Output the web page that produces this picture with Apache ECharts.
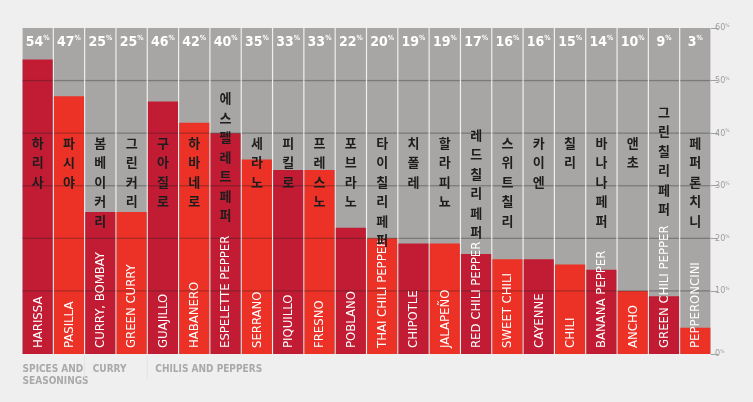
<!DOCTYPE html>
<html>
<head>
<meta charset="utf-8">
<script src="https://cdn.jsdelivr.net/npm/echarts@6/dist/echarts.min.js"></script>
<style>
  html, body { margin: 0; padding: 0; background: #efefef; }
  #chart { width: 753px; height: 402px; }
</style>
</head>
<body>
<div id="chart"></div>
<script>
// ---------- data ----------
const categories = ['HARISSA', 'PASILLA', 'CURRY, BOMBAY', 'GREEN CURRY', 'GUAJILLO', 'HABANERO',
  'ESPELETTE PEPPER', 'SERRANO', 'PIQUILLO', 'FRESNO', 'POBLANO', 'THAI CHILI PEPPER', 'CHIPOTLE',
  'JALAPEÑO', 'RED CHILI PEPPER', 'SWEET CHILI', 'CAYENNE', 'CHILI', 'BANANA PEPPER', 'ANCHO',
  'GREEN CHILI PEPPER', 'PEPPERONCINI'];
const koreanNames = ['하리사', '파시야', '봄베이커리', '그린커리', '구아질로', '하바네로',
  '에스펠레트페퍼', '세라노', '피킬로', '프레스노', '포브라노', '타이칠리페퍼', '치폴레',
  '할라피뇨', '레드칠리페퍼', '스위트칠리', '카이엔', '칠리', '바나나페퍼', '앤초',
  '그린칠리페퍼', '페퍼론치니'];
const values = [54, 47, 25, 25, 46, 42, 40, 35, 33, 33, 22, 20, 19, 19, 17, 16, 16, 15, 14, 10, 9, 3];
const groupNames = ['SPICES AND\nSEASONINGS', 'CURRY', 'CHILIS AND PEPPERS'];
const groupStarts = [0, 2, 4];
const tickValues = [0, 10, 20, 30, 40, 50, 60];
const gridValues = [10, 20, 30, 40, 50];

// ---------- layout / style ----------
const yMin = -2, yMax = 60;
const koreanTopDefault = 40;               // value level where Korean labels start
const koreanTopOverride = { 6: 48.5, 14: 41.5, 20: 45.9 };
const DARK = '#c11c33', BRIGHT = '#ec3127', GRAY = '#a7a6a4';
const CONDENSED = '"Liberation Sans Narrow", "DejaVu Sans Condensed", "Roboto Condensed", "Noto Sans", sans-serif';
const KFONT = '"Noto Sans CJK KR", "Noto Sans", sans-serif';

const chart = echarts.init(document.getElementById('chart'), null, { renderer: 'canvas' });

function renderItem(params, api) {
  const i = api.value(0);
  const v = api.value(1);
  const cs = params.coordSys;
  const bandW = api.size([1, 0])[0];
  const w = bandW - 1.2;
  const top = api.coord([i, v]);
  const cx = top[0];
  const x0 = cx - w / 2;
  const bottom = cs.y + cs.height;
  const gridTop = cs.y;
  const children = [];
  children.push({ type: 'rect', shape: { x: x0, y: gridTop, width: w, height: bottom - gridTop }, style: { fill: GRAY } });
  children.push({ type: 'rect', shape: { x: x0, y: top[1], width: w, height: bottom - top[1] }, style: { fill: i % 2 === 0 ? DARK : BRIGHT } });
  gridValues.forEach(g => {
    const gy = api.coord([i, g])[1];
    children.push({ type: 'line', shape: { x1: x0, y1: gy, x2: x0 + w, y2: gy }, style: { stroke: 'rgba(30,30,30,0.32)', lineWidth: 1.3 } });
  });
  // percentage header
  children.push({
    type: 'text', x: cx, y: gridTop + 14,
    style: {
      text: '{n|' + v + '}{p|%}', align: 'center', verticalAlign: 'middle',
      rich: {
        n: { fontFamily: CONDENSED, fontSize: 14, fontWeight: 'bold', fill: '#ffffff' },
        p: { fontFamily: CONDENSED, fontSize: 7, fontWeight: 'bold', fill: '#ffffff', verticalAlign: 'top', padding: [0, 0, 7, 0] }
      }
    }
  });
  // English name, rotated
  children.push({
    type: 'text', x: cx + 0.5, y: bottom - 6, rotation: Math.PI / 2,
    style: { text: categories[i], fill: '#ffffff', font: '13px ' + CONDENSED, align: 'left', verticalAlign: 'middle' }
  });
  // Korean name, vertical stack
  const kTop = koreanTopOverride[i] !== undefined ? koreanTopOverride[i] : koreanTopDefault;
  const ky = api.coord([i, kTop])[1];
  children.push({
    type: 'text', x: cx, y: ky,
    style: { text: koreanNames[i].split('').join('\n'), fill: '#1d1d1d', font: 'bold 13px ' + KFONT, align: 'center', verticalAlign: 'top', lineHeight: 19.5 }
  });
  // group labels
  const gIdx = groupStarts.indexOf(i);
  if (gIdx >= 0) {
    const lx = gIdx === 0 ? x0 : x0 + 7.5;
    if (gIdx > 0) {
      children.push({ type: 'line', shape: { x1: x0 - 0.6, y1: bottom + 2, x2: x0 - 0.6, y2: bottom + 25 }, style: { stroke: '#e4e4e4', lineWidth: 1 } });
    }
    children.push({
      type: 'text', x: lx, y: bottom + 9,
      style: { text: groupNames[gIdx], fill: '#a9a9a9', font: 'bold 10px ' + CONDENSED, align: 'left', verticalAlign: 'top', lineHeight: 12 }
    });
  }
  return { type: 'group', children };
}

const option = {
  animation: false,
  backgroundColor: '#efefef',
  grid: { left: 22, right: 42, top: 28, bottom: 48 },
  xAxis: {
    type: 'category', data: categories, boundaryGap: true,
    axisLine: { show: false }, axisTick: { show: false }, axisLabel: { show: false }, splitLine: { show: false }
  },
  yAxis: {
    type: 'value', position: 'right', min: yMin, max: yMax,
    axisLine: { show: false },
    axisTick: { show: true, length: 7, customValues: tickValues.map(t => t === 0 ? yMin : t), lineStyle: { color: '#a0a0a0', width: 1 } },
    axisLabel: {
      show: true, margin: 4, customValues: tickValues.map(t => t === 0 ? yMin : t),
      formatter: val => '{n|' + (val <= 0 ? 0 : val) + '}{p|%}',
      rich: {
        n: { fontFamily: CONDENSED, fontSize: 9, color: '#9e9e9e' },
        p: { fontFamily: CONDENSED, fontSize: 5, color: '#9e9e9e', verticalAlign: 'top', padding: [0, 0, 4, 0] }
      }
    },
    splitLine: { show: false }
  },
  series: [{
    type: 'custom',
    renderItem: renderItem,
    clip: false,
    silent: true,
    encode: { x: 0, y: 1 },
    data: values.map((v, i) => [i, v])
  }]
};
chart.setOption(option);
</script>
</body>
</html>
